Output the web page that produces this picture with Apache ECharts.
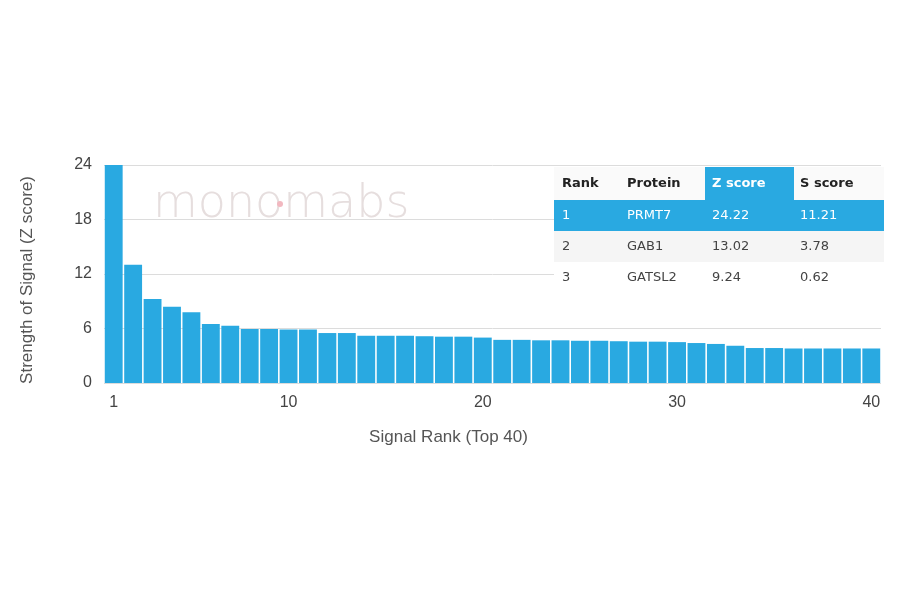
<!DOCTYPE html>
<html>
<head>
<meta charset="utf-8">
<script src="https://cdn.jsdelivr.net/npm/echarts@6/dist/echarts.min.js"></script>
<style>
  html, body { margin: 0; padding: 0; background: #fff; }
  #chart { width: 900px; height: 594px; }
</style>
</head>
<body>
<div id="chart"></div>
<script>
// signal rank 1..40
const ranks = [];
for (let i = 1; i <= 40; i++) ranks.push(String(i));

// Z score per rank
const zScores = [
  24.22, 13.02, 9.24, 8.4, 7.8, 6.5, 6.3, 5.95, 5.95, 5.9,
  5.9, 5.5, 5.5, 5.2, 5.2, 5.2, 5.15, 5.1, 5.1, 5.0,
  4.75, 4.75, 4.7, 4.7, 4.65, 4.65, 4.6, 4.55, 4.55, 4.5,
  4.4, 4.3, 4.1, 3.85, 3.85, 3.8, 3.8, 3.8, 3.8, 3.8
];

const shownTicks = [0, 9, 19, 29, 39];

// top 3 table
const tableHead = ["Rank", "Protein", "Z score", "S score"];
const tableRows = [
  ["1", "PRMT7", "24.22", "11.21"],
  ["2", "GAB1", "13.02", "3.78"],
  ["3", "GATSL2", "9.24", "0.62"]
];

const blue = "#29a9e1";
const colX = [562, 627, 712, 800];
const tblLeft = 554, tblRight = 884, headTop = 167, headH = 33, rowH = 31;

function buildTable() {
  const els = [];
  // white backing for the whole table
  els.push({ type: "rect", z: 100, shape: { x: tblLeft, y: headTop, width: tblRight - tblLeft, height: headH + rowH * 3 }, style: { fill: "#fff" } });
  els.push({ type: "rect", z: 100, shape: { x: tblLeft, y: headTop, width: tblRight - tblLeft, height: headH }, style: { fill: "#fafafa" } });
  // highlighted Z score header cell
  els.push({ type: "rect", z: 101, shape: { x: 705, y: headTop, width: 89, height: headH }, style: { fill: blue } });
  tableHead.forEach((h, c) => {
    els.push({ type: "text", z: 102, style: { text: h, x: colX[c], y: headTop + headH / 2, verticalAlign: "middle", fill: c === 2 ? "#fff" : "#222", font: "bold 13px 'DejaVu Sans'" } });
  });
  tableRows.forEach((row, r) => {
    const top = headTop + headH + r * rowH;
    const bg = r === 0 ? blue : (r === 1 ? "#f5f5f5" : "#fff");
    els.push({ type: "rect", z: 101, shape: { x: tblLeft, y: top, width: tblRight - tblLeft, height: rowH }, style: { fill: bg } });
    row.forEach((v, c) => {
      els.push({ type: "text", z: 102, style: { text: v, x: colX[c], y: top + rowH / 2, verticalAlign: "middle", fill: r === 0 ? "#fff" : "#444", font: "13px 'DejaVu Sans'" } });
    });
  });
  return els;
}

const chart = echarts.init(document.getElementById("chart"));
chart.setOption({
  animation: false,
  grid: { left: 104, right: 19, top: 165, bottom: 211 },
  xAxis: {
    type: "category",
    data: ranks,
    name: "Signal Rank (Top 40)",
    nameLocation: "middle",
    nameGap: 46,
    nameTextStyle: { color: "#555", fontSize: 17, fontFamily: "Liberation Sans", padding: [0, 88, 0, 0] },
    axisLine: { show: false },
    axisTick: { show: false },
    axisLabel: {
      interval: (i) => shownTicks.indexOf(i) >= 0,
      color: "#444",
      fontSize: 16,
      margin: 12,
      fontFamily: "Liberation Sans"
    }
  },
  yAxis: {
    type: "value",
    min: 0,
    max: 24,
    interval: 6,
    name: "Strength of Signal (Z score)",
    nameLocation: "middle",
    nameGap: 68,
    nameTextStyle: { color: "#555", fontSize: 17, fontFamily: "Liberation Sans", padding: [0, 12, 0, 0] },
    axisLine: { show: false },
    axisTick: { show: false },
    axisLabel: { color: "#444", fontSize: 16, margin: 12, fontFamily: "Liberation Sans" },
    splitLine: { lineStyle: { color: "#dcdcdc", width: 1 } }
  },
  graphic: [
    { type: "text", z: 50, style: { text: "monomabs", x: 153, y: 205, verticalAlign: "middle", fill: "#e6dede", font: "300 46px 'DejaVu Sans'" } },
    { type: "circle", z: 51, shape: { cx: 280, cy: 204, r: 3 }, style: { fill: "#f2b8c0" } }
  ].concat(buildTable()),
  series: [{
    type: "bar",
    data: zScores,
    barCategoryGap: "8%",
    itemStyle: { color: blue },
    clip: true
  }]
});
</script>
</body>
</html>
